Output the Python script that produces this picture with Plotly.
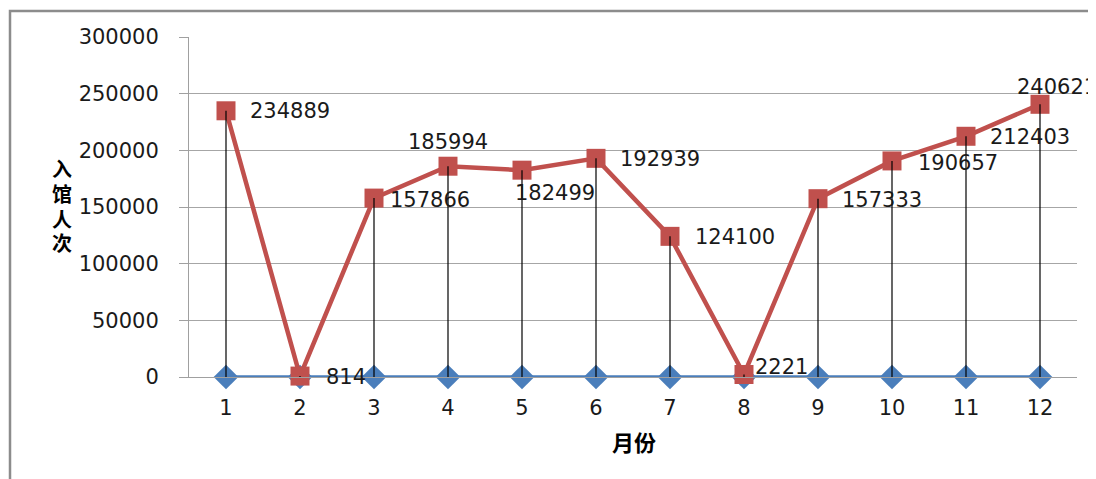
import plotly.graph_objects as go

months = [1, 2, 3, 4, 5, 6, 7, 8, 9, 10, 11, 12]
month_labels = ["1", "2", "3", "4", "5", "6", "7", "8", "9", "10", "11", "12"]
visitors = [234889, 814, 157866, 185994, 182499, 192939, 124100, 2221, 157333, 190657, 212403, 240621]
baseline = [0, 0, 0, 0, 0, 0, 0, 0, 0, 0, 0, 0]
y_ticks = [0, 50000, 100000, 150000, 200000, 250000, 300000]
y_title_chars = ["入", "馆", "人", "次"]

# label offsets in pixels (style only)
label_dx = [22, 24, 14, -42, -9, 22, 23, 9, 22, 24, 22, -25]
label_dy = [0, -1, -2, 24, -23, -1, -1, 7, -1, -2, -1, 17]

RED = "#C0504D"
BLUE = "#4A7EBB"
FONT = "DejaVu Sans"
CJK = "Noto Sans CJK SC"

# page offset of the figure inside the browser window
OFF = 8
L, R, T, B = 189 - OFF, 19 + OFF, 37 - OFF, 102 + OFF
PW, PH = 1096 - L - R, 479 - T - B


def px(xp):
    return (xp - 189) / PW


def py(yp):
    return (377 - yp) / PH


fig = go.Figure()

fig.add_trace(go.Scatter(
    x=months, y=baseline, mode="lines+markers",
    line=dict(color=BLUE, width=3.5),
    marker=dict(symbol="diamond", size=19, color=BLUE),
    cliponaxis=False, showlegend=False, hoverinfo="skip"))

fig.add_trace(go.Scatter(
    x=months, y=visitors, mode="lines+markers",
    line=dict(color=RED, width=4.5),
    marker=dict(symbol="square", size=19, color=RED),
    cliponaxis=False, showlegend=False))

# drop lines from the higher series to the axis
dx, dy = [], []
for m, v in zip(months, visitors):
    dx += [m, m, None]
    dy += [v, 0, None]
fig.add_trace(go.Scatter(
    x=dx, y=dy, mode="lines", line=dict(color="#000000", width=1.2),
    cliponaxis=False, showlegend=False, hoverinfo="skip"))

annotations = []
for m, v, ox, oy in zip(months, visitors, label_dx, label_dy):
    annotations.append(dict(
        x=m, y=v, xref="x", yref="y", text=str(v), showarrow=False,
        xanchor="left", yanchor="middle", xshift=ox, yshift=oy,
        font=dict(family=FONT, size=21, color="#1a1a1a")))

annotations.append(dict(
    x=px(634), y=py(441), xref="paper", yref="paper",
    text="<b>月份</b>", showarrow=False, xanchor="center", yanchor="middle",
    font=dict(family=CJK, size=22, color="#000000")))
for i, ch in enumerate(y_title_chars):
    annotations.append(dict(
        x=px(62), y=py(169 + 24.5 * i), xref="paper", yref="paper",
        text="<b>" + ch + "</b>", showarrow=False, xanchor="center", yanchor="middle",
        borderpad=0, font=dict(family=CJK, size=20, color="#000000")))

fig.update_layout(
    width=1096, height=479,
    margin=dict(l=L, r=R, t=T, b=B),
    paper_bgcolor="white", plot_bgcolor="white",
    annotations=annotations,
    shapes=[dict(type="path", xref="paper", yref="paper",
                 path="M {a},{b} L {a},{c} L {d},{c}".format(
                     a=px(10), b=py(500), c=py(11), d=px(1120)),
                 line=dict(color="#8c8c8c", width=2.5),
                 layer="below")],
)

fig.update_xaxes(
    range=[0.5, 12.5], tickmode="array", tickvals=months, ticktext=month_labels,
    showgrid=False, zeroline=False, showline=True, linecolor="#a0a0a0", linewidth=1,
    ticks="", ticklabelstandoff=12,
    tickfont=dict(family=FONT, size=21, color="#1a1a1a"))

fig.update_yaxes(
    range=[0, 300000], tickmode="array", tickvals=y_ticks, ticktext=[str(t) for t in y_ticks],
    showgrid=True, gridcolor="#a6a6a6", gridwidth=1, zeroline=False,
    showline=True, linecolor="#a0a0a0", linewidth=1,
    ticks="outside", ticklen=9, tickcolor="#a0a0a0", ticklabelstandoff=16,
    tickfont=dict(family=FONT, size=21, color="#1a1a1a"))

fig.write_html("out.html")
